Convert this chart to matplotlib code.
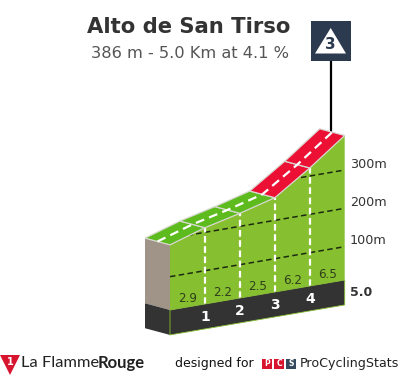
#!/usr/bin/env python3
import numpy as np
import matplotlib
matplotlib.use("Agg")
import matplotlib.pyplot as plt
from matplotlib.patches import Polygon, Rectangle

# profile
km = [0, 1, 2, 3, 4, 5]
altitude = [183, 212, 234, 259, 321, 390]
gradient = [2.9, 2.2, 2.5, 6.2, 6.5]
segment_colors = ["#5dbb1e", "#5dbb1e", "#5dbb1e", "#ec1035", "#ec1035"]
km_labels = ["1", "2", "3", "4"]
alt_lines = [100, 200, 300]
alt_labels = ["100m", "200m", "300m"]
distance_label = "5.0"
band_top = 13
band_bottom = -52

title = "Alto de San Tirso"
subtitle = "386 m - 5.0 Km at 4.1 %"
category = "3"

plt.rcParams["font.family"] = ["DejaVu Sans"]

SIDE = "#86bf30"
DARK = "#333333"


def project(k, a, depth=0.0):
    # oblique view, depth goes from 0 (front) to 1 (back)
    x = 170 + k * 34.94 - depth * 25
    y = 315 - k * 6 - a * 0.3833 - depth * 6.7
    return x, y


fig = plt.figure(figsize=(4.05, 3.80), dpi=100)
ax = fig.add_axes([0, 0, 1, 1])
ax.set_xlim(0, 405)
ax.set_ylim(380, 0)
ax.axis("off")

# left end of the block
ax.add_patch(Polygon([project(0, altitude[0], 1), project(0, altitude[0]),
                      project(0, band_top), project(0, band_top, 1)],
                     fc="#a09488", ec="none", zorder=2))
ax.add_patch(Polygon([project(0, band_top, 1), project(0, band_top),
                      project(0, band_bottom), project(0, band_bottom, 1)],
                     fc=DARK, ec="none", zorder=2))

# front face
front = [project(k, a) for k, a in zip(km, altitude)]
front += [project(km[-1], band_top), project(km[0], band_top)]
side = Polygon(front, fc=SIDE, ec="none", zorder=2)
ax.add_patch(side)

# altitude guide lines, clipped to the front face
for a, label in zip(alt_lines, alt_labels):
    p0 = project(km[0], a)
    p1 = project(km[-1], a)
    line, = ax.plot([p0[0], p1[0]], [p0[1], p1[1]], color="#1c2a10", lw=1.1,
                    dashes=(3.6, 2.2), zorder=3)
    line.set_clip_path(side)
    ax.text(350, p1[1] - 6, label, fontsize=9.2, color="#333333",
            va="center", ha="left", zorder=6)

# km markers
for k in km[1:-1]:
    p0 = project(k, band_top)
    p1 = project(k, altitude[k])
    ax.plot([p0[0], p1[0]], [p0[1], p1[1]], color="white", lw=1.6,
            dashes=(3, 1.6), zorder=3)

# dark band along the bottom
ax.add_patch(Polygon([project(km[0], band_top), project(km[-1], band_top),
                      project(km[-1], band_bottom), project(km[0], band_bottom)],
                     fc=DARK, ec=SIDE, lw=0.6, zorder=4))

# road surface, one piece per km
for i in range(len(gradient)):
    pts = [project(km[i], altitude[i]), project(km[i + 1], altitude[i + 1]),
           project(km[i + 1], altitude[i + 1], 1), project(km[i], altitude[i], 1)]
    ax.add_patch(Polygon(pts, fc=segment_colors[i], ec="#d8d8d0", lw=0.9, zorder=4))

# dashed centre line of the road
mid = [project(k, a, 0.5) for k, a in zip(km, altitude)]
ax.plot([p[0] for p in mid], [p[1] for p in mid], color="white", lw=1.6,
        dashes=(4, 2.4), zorder=5)

# gradient values and km numbers
for i, g in enumerate(gradient):
    x, y = project(km[i] + 0.5, 34)
    ax.text(x, y, f"{g:.1f}", fontsize=8.6, color="#2f3f1a",
            ha="center", va="center", zorder=6)
for k, label in zip(km[1:-1], km_labels):
    x, y = project(k, -20)
    ax.text(x, y, label, fontsize=10, color="white", fontweight="bold",
            ha="center", va="center", zorder=6)
ax.text(350, 292, distance_label, fontsize=9, color="#333333", fontweight="bold",
        ha="left", va="center", zorder=6)

# climb flag
ax.plot([330.7, 330.7], [60, project(km[-1], altitude[-1], 0.5)[1]], color="black",
        lw=1.6, solid_capstyle="butt", zorder=3)
ax.add_patch(Rectangle((311, 21), 40, 40, fc="#2b3a4f", ec="none", zorder=6))
ax.add_patch(Polygon([(330.7, 28), (346, 53.5), (315, 53.5)], fc="white", ec="none", zorder=7))
ax.text(330.7, 44.5, category, fontsize=11, fontweight="bold", color="#2b3a4f",
        ha="center", va="center", zorder=8)

# header
ax.text(188.7, 27, title, fontsize=15.2, fontweight="bold", color="#333333",
        ha="center", va="center")
ax.text(190, 54, subtitle, fontsize=11.7, color="#555555", ha="center", va="center")

# footer
ax.add_patch(Polygon([(0, 355), (20, 355), (10, 375)], fc="#d8152f", ec="none"))
ax.text(10, 362, "1", fontsize=7, fontweight="bold", color="white", ha="center", va="center")
ax.text(21, 363, "La Flamme", fontsize=11.8, color="#222222", ha="left", va="center",
        family="Lato")
ax.text(98, 363, "Rouge", fontsize=12, color="#222222", ha="left", va="center",
        family="Lato", fontweight="bold")
ax.text(175, 364, "designed for", fontsize=9, color="#111111", ha="left", va="center")
for x0, col, letter in zip([262, 274, 286], ["#d8152f", "#d8152f", "#34495e"], "PCS"):
    ax.add_patch(Rectangle((x0, 359), 10, 10, fc=col, ec="none"))
    ax.text(x0 + 5, 364, letter, fontsize=5.5, fontweight="bold", color="white",
            ha="center", va="center")
ax.text(300, 364, "ProCyclingStats", fontsize=9.1, color="#222222", ha="left", va="center")

fig.savefig("out.png", dpi=100)
